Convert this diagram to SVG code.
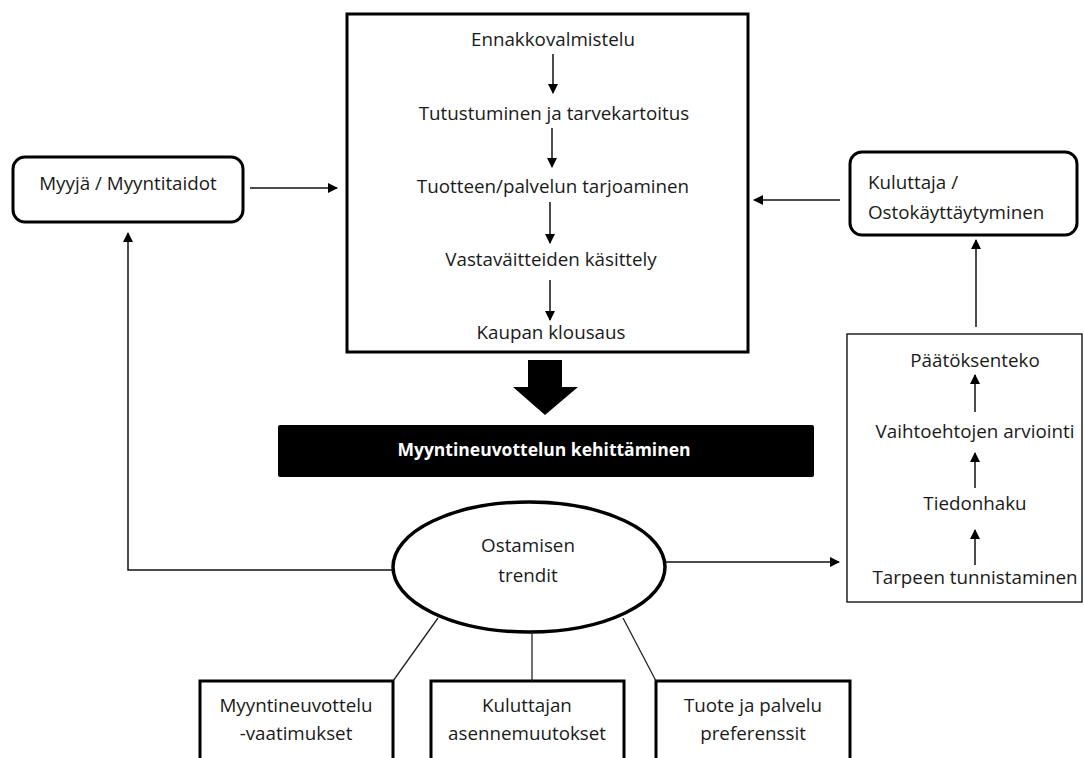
<svg xmlns="http://www.w3.org/2000/svg" width="1084" height="758" viewBox="0 0 1084 758">
<style>
text{font-family:"Open Sans","Noto Sans","DejaVu Sans",sans-serif;font-size:18.8px;fill:#1a1a1a}
.c{text-anchor:middle}
.thick{fill:#fff;stroke:#000;stroke-width:3}
.thin{fill:#fff;stroke:#222;stroke-width:1.5}
.ln{stroke:#222;stroke-width:1.3;fill:none}
.ar{stroke:#111;stroke-width:1.5;fill:none;marker-end:url(#ah)}
</style>
<defs>
<marker id="ah" viewBox="0 0 10 10" refX="9" refY="5" markerWidth="10" markerHeight="10" markerUnits="userSpaceOnUse" orient="auto">
<path d="M0,0 L10,5 L0,10 z" fill="#000"/>
</marker>
</defs>
<rect width="1084" height="758" fill="#fff"/>
<g id="process">
<rect class="thick" x="347" y="14" width="401" height="338"/>
<text class="c" x="553" y="46">Ennakkovalmistelu</text>
<text class="c" x="554" y="120">Tutustuminen ja tarvekartoitus</text>
<text class="c" x="553" y="193">Tuotteen/palvelun tarjoaminen</text>
<text class="c" x="551" y="266">Vastaväitteiden käsittely</text>
<text class="c" x="551" y="339">Kaupan klousaus</text>
<g class="inner">
<line class="ar" x1="553" y1="54" x2="553" y2="93"/>
<line class="ar" x1="552" y1="128" x2="552" y2="167"/>
<line class="ar" x1="550" y1="202" x2="550" y2="243"/>
<line class="ar" x1="550" y1="280" x2="550" y2="320"/>
</g>
</g>
<g id="seller">
<rect class="thick" x="13" y="157" width="230" height="65" rx="12"/>
<text class="c" x="128" y="190">Myyjä / Myyntitaidot</text>
</g>
<g id="consumer">
<rect class="thick" x="850" y="152" width="227" height="83" rx="12"/>
<text x="868" y="189">Kuluttaja /</text>
<text x="868" y="219">Ostokäyttäytyminen</text>
</g>
<g id="buying">
<rect class="thin" x="847" y="334" width="235" height="268"/>
<text class="c" x="975" y="367">Päätöksenteko</text>
<text class="c" x="975" y="438">Vaihtoehtojen arviointi</text>
<text class="c" x="975" y="510">Tiedonhaku</text>
<text class="c" x="975" y="584">Tarpeen tunnistaminen</text>
<g class="inner">
<line class="ar" x1="975" y1="412" x2="975" y2="375"/>
<line class="ar" x1="975" y1="488" x2="975" y2="453"/>
<line class="ar" x1="975" y1="565" x2="975" y2="530"/>
</g>
</g>
<g id="bigarrow">
<path d="M528,360 H562 V387 H578 L545,415 L513,387 H528 Z" fill="#000"/>
</g>
<g id="development">
<rect x="278" y="425" width="536" height="52" rx="2" fill="#000"/>
<text class="c" x="544" y="456" style="fill:#fff;font-weight:bold;font-size:17.5px">Myyntineuvottelun kehittäminen</text>
</g>
<g id="trends">
<ellipse cx="529" cy="567" rx="136" ry="65" fill="#fff" stroke="#000" stroke-width="3.5"/>
<text class="c" x="528" y="552">Ostamisen</text>
<text class="c" x="528" y="582">trendit</text>
</g>
<g id="req">
<rect class="thick" x="200" y="681" width="193" height="90"/>
<text class="c" x="296" y="712">Myyntineuvottelu</text>
<text class="c" x="296" y="740">-vaatimukset</text>
</g>
<g id="attitude">
<rect class="thick" x="431" y="681" width="193" height="90"/>
<text class="c" x="527" y="712">Kuluttajan</text>
<text class="c" x="527" y="740">asennemuutokset</text>
</g>
<g id="pref">
<rect class="thick" x="656" y="681" width="194" height="90"/>
<text class="c" x="753" y="712">Tuote ja palvelu</text>
<text class="c" x="753" y="740">preferenssit</text>
</g>
<g id="connectors">
<line class="ar" x1="250" y1="188" x2="337" y2="188"/>
<line class="ar" x1="840" y1="200" x2="754" y2="200"/>
<line class="ar" x1="976" y1="327" x2="976" y2="240"/>
<polyline class="ar" points="393,570 128,570 128,233"/>
<line class="ar" x1="665" y1="562" x2="839" y2="562"/>
<line class="ln" x1="393" y1="681" x2="438" y2="618"/>
<line class="ln" x1="532" y1="632" x2="532" y2="681"/>
<line class="ln" x1="656" y1="681" x2="623" y2="618"/>
</g>
</svg>
